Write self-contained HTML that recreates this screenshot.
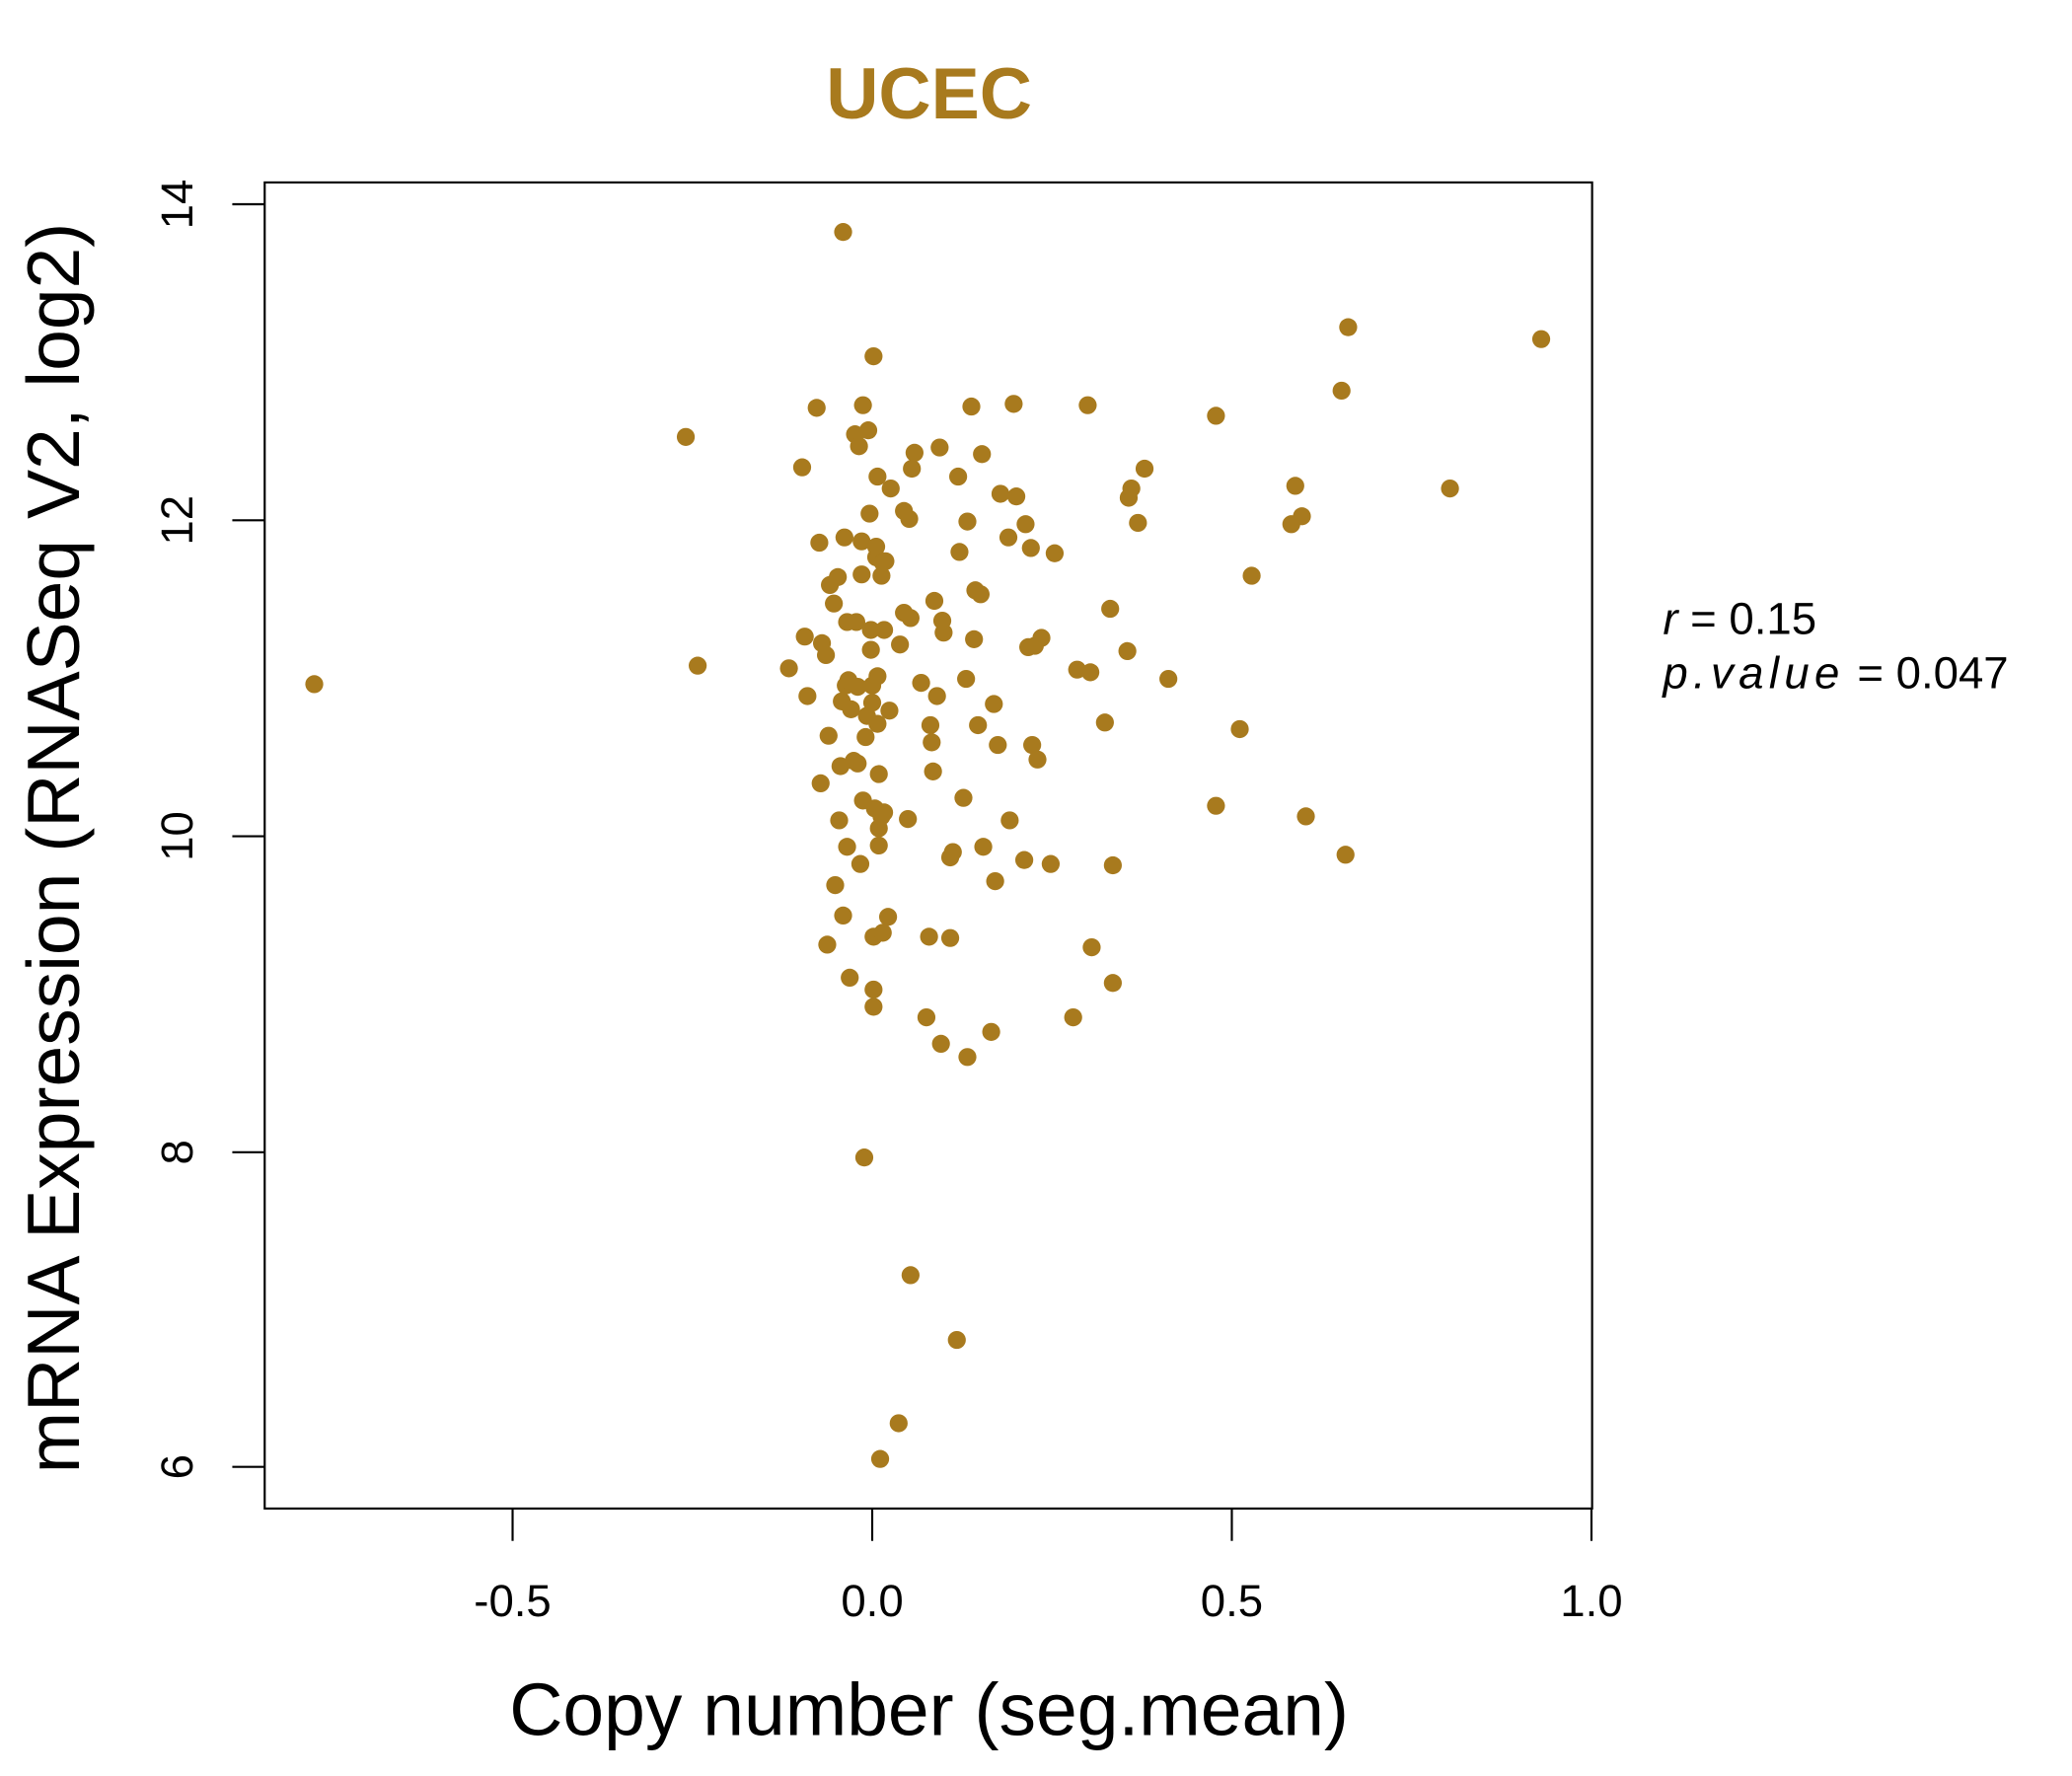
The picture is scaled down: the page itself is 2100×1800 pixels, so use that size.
<!DOCTYPE html>
<html><head><meta charset="utf-8"><style>html,body{margin:0;padding:0;background:#fff}svg{display:block}</style></head>
<body>
<svg width="2100" height="1800" xmlns="http://www.w3.org/2000/svg" font-family="Liberation Sans, sans-serif">
<g transform="translate(884,207) scale(1.34) translate(-660,-155)">
<text x="703" y="90" font-size="55" font-weight="bold" fill="#A87A1E" text-anchor="middle">UCEC</text>
<rect x="200.5" y="138.5" width="1004" height="1003" fill="none" stroke="#000" stroke-width="1.6"/>
<g stroke="#000" stroke-width="1.6">
<line x1="388" y1="1141" x2="388" y2="1166"/><line x1="660" y1="1141" x2="660" y2="1166"/><line x1="932" y1="1141" x2="932" y2="1166"/><line x1="1204" y1="1141" x2="1204" y2="1166"/>
<line x1="176" y1="155" x2="201" y2="155"/><line x1="176" y1="394" x2="201" y2="394"/><line x1="176" y1="633" x2="201" y2="633"/><line x1="176" y1="872" x2="201" y2="872"/><line x1="176" y1="1110" x2="201" y2="1110"/>
</g>
<g font-size="34" text-anchor="middle">
<text x="388" y="1223">-0.5</text><text x="660" y="1223">0.0</text><text x="932" y="1223">0.5</text><text x="1204" y="1223">1.0</text>
<text transform="translate(146,155) rotate(-90)">14</text>
<text transform="translate(146,394) rotate(-90)">12</text>
<text transform="translate(146,633) rotate(-90)">10</text>
<text transform="translate(146,872) rotate(-90)">8</text>
<text transform="translate(146,1110) rotate(-90)">6</text>
</g>
<text x="703" y="1313" font-size="56" text-anchor="middle">Copy number (seg.mean)</text>
<text transform="translate(60,642) rotate(-90)" font-size="56" text-anchor="middle">mRNA Expression (RNASeq V2, log2)</text>
<text x="1258" y="480" font-size="34"><tspan font-style="italic">r</tspan> = 0.15</text>
<text x="1258" y="521" font-size="34"><tspan font-style="italic" letter-spacing="4">p.value</tspan> = 0.047</text>
<g fill="#A87A1E">
<circle cx="238" cy="518" r="6.8"/><circle cx="519" cy="331" r="6.8"/><circle cx="528" cy="504" r="6.8"/><circle cx="597" cy="506" r="6.8"/><circle cx="607" cy="354" r="6.8"/><circle cx="609" cy="482" r="6.8"/><circle cx="611" cy="527" r="6.8"/><circle cx="618" cy="309" r="6.8"/><circle cx="620" cy="411" r="6.8"/><circle cx="621" cy="593" r="6.8"/><circle cx="622" cy="487" r="6.8"/><circle cx="625" cy="496" r="6.8"/><circle cx="626" cy="715" r="6.8"/><circle cx="627" cy="557" r="6.8"/><circle cx="628" cy="443" r="6.8"/><circle cx="631" cy="457" r="6.8"/><circle cx="632" cy="670" r="6.8"/><circle cx="634" cy="437" r="6.8"/><circle cx="635" cy="621" r="6.8"/><circle cx="636" cy="580" r="6.8"/><circle cx="637" cy="531" r="6.8"/><circle cx="638" cy="693" r="6.8"/><circle cx="639" cy="407" r="6.8"/><circle cx="640" cy="519" r="6.8"/><circle cx="641" cy="471" r="6.8"/><circle cx="641" cy="641" r="6.8"/><circle cx="642" cy="515" r="6.8"/><circle cx="643" cy="740" r="6.8"/><circle cx="644" cy="537" r="6.8"/><circle cx="646" cy="576" r="6.8"/><circle cx="647" cy="329" r="6.8"/><circle cx="648" cy="471" r="6.8"/><circle cx="649" cy="520" r="6.8"/><circle cx="649" cy="578" r="6.8"/><circle cx="650" cy="338" r="6.8"/><circle cx="651" cy="654" r="6.8"/><circle cx="652" cy="410" r="6.8"/><circle cx="652" cy="435" r="6.8"/><circle cx="653" cy="606" r="6.8"/><circle cx="653" cy="307" r="6.8"/><circle cx="654" cy="876" r="6.8"/><circle cx="655" cy="558" r="6.8"/><circle cx="656" cy="542" r="6.8"/><circle cx="657" cy="326" r="6.8"/><circle cx="658" cy="389" r="6.8"/><circle cx="659" cy="477" r="6.8"/><circle cx="659" cy="492" r="6.8"/><circle cx="660" cy="532" r="6.8"/><circle cx="660" cy="519" r="6.8"/><circle cx="661" cy="709" r="6.8"/><circle cx="661" cy="749" r="6.8"/><circle cx="661" cy="762" r="6.8"/><circle cx="661" cy="270" r="6.8"/><circle cx="662" cy="612" r="6.8"/><circle cx="663" cy="422" r="6.8"/><circle cx="663" cy="414" r="6.8"/><circle cx="664" cy="361" r="6.8"/><circle cx="664" cy="512" r="6.8"/><circle cx="664" cy="548" r="6.8"/><circle cx="665" cy="586" r="6.8"/><circle cx="665" cy="640" r="6.8"/><circle cx="665" cy="627" r="6.8"/><circle cx="666" cy="1104" r="6.8"/><circle cx="667" cy="436" r="6.8"/><circle cx="667" cy="618" r="6.8"/><circle cx="668" cy="426" r="6.8"/><circle cx="668" cy="706" r="6.8"/><circle cx="669" cy="615" r="6.8"/><circle cx="669" cy="477" r="6.8"/><circle cx="670" cy="425" r="6.8"/><circle cx="672" cy="694" r="6.8"/><circle cx="673" cy="538" r="6.8"/><circle cx="674" cy="370" r="6.8"/><circle cx="680" cy="1077" r="6.8"/><circle cx="681" cy="488" r="6.8"/><circle cx="684" cy="387" r="6.8"/><circle cx="684" cy="464" r="6.8"/><circle cx="687" cy="620" r="6.8"/><circle cx="688" cy="393" r="6.8"/><circle cx="689" cy="965" r="6.8"/><circle cx="689" cy="468" r="6.8"/><circle cx="690" cy="355" r="6.8"/><circle cx="692" cy="343" r="6.8"/><circle cx="697" cy="517" r="6.8"/><circle cx="701" cy="770" r="6.8"/><circle cx="703" cy="709" r="6.8"/><circle cx="704" cy="549" r="6.8"/><circle cx="705" cy="562" r="6.8"/><circle cx="706" cy="584" r="6.8"/><circle cx="707" cy="455" r="6.8"/><circle cx="709" cy="527" r="6.8"/><circle cx="711" cy="339" r="6.8"/><circle cx="712" cy="790" r="6.8"/><circle cx="713" cy="470" r="6.8"/><circle cx="714" cy="479" r="6.8"/><circle cx="719" cy="710" r="6.8"/><circle cx="719" cy="649" r="6.8"/><circle cx="721" cy="645" r="6.8"/><circle cx="724" cy="1014" r="6.8"/><circle cx="725" cy="361" r="6.8"/><circle cx="726" cy="418" r="6.8"/><circle cx="729" cy="604" r="6.8"/><circle cx="731" cy="514" r="6.8"/><circle cx="732" cy="395" r="6.8"/><circle cx="732" cy="800" r="6.8"/><circle cx="735" cy="308" r="6.8"/><circle cx="737" cy="484" r="6.8"/><circle cx="738" cy="447" r="6.8"/><circle cx="740" cy="549" r="6.8"/><circle cx="742" cy="450" r="6.8"/><circle cx="743" cy="344" r="6.8"/><circle cx="744" cy="641" r="6.8"/><circle cx="750" cy="781" r="6.8"/><circle cx="752" cy="533" r="6.8"/><circle cx="753" cy="667" r="6.8"/><circle cx="755" cy="564" r="6.8"/><circle cx="757" cy="374" r="6.8"/><circle cx="763" cy="407" r="6.8"/><circle cx="764" cy="621" r="6.8"/><circle cx="767" cy="306" r="6.8"/><circle cx="769" cy="376" r="6.8"/><circle cx="775" cy="651" r="6.8"/><circle cx="776" cy="397" r="6.8"/><circle cx="778" cy="490" r="6.8"/><circle cx="780" cy="415" r="6.8"/><circle cx="781" cy="564" r="6.8"/><circle cx="783" cy="489" r="6.8"/><circle cx="785" cy="575" r="6.8"/><circle cx="788" cy="483" r="6.8"/><circle cx="795" cy="654" r="6.8"/><circle cx="798" cy="419" r="6.8"/><circle cx="812" cy="770" r="6.8"/><circle cx="815" cy="507" r="6.8"/><circle cx="823" cy="307" r="6.8"/><circle cx="825" cy="509" r="6.8"/><circle cx="826" cy="717" r="6.8"/><circle cx="836" cy="547" r="6.8"/><circle cx="840" cy="461" r="6.8"/><circle cx="842" cy="655" r="6.8"/><circle cx="842" cy="744" r="6.8"/><circle cx="854" cy="377" r="6.8"/><circle cx="853" cy="493" r="6.8"/><circle cx="856" cy="370" r="6.8"/><circle cx="861" cy="396" r="6.8"/><circle cx="866" cy="355" r="6.8"/><circle cx="884" cy="514" r="6.8"/><circle cx="920" cy="315" r="6.8"/><circle cx="920" cy="610" r="6.8"/><circle cx="947" cy="436" r="6.8"/><circle cx="938" cy="552" r="6.8"/><circle cx="977" cy="397" r="6.8"/><circle cx="980" cy="368" r="6.8"/><circle cx="985" cy="391" r="6.8"/><circle cx="988" cy="618" r="6.8"/><circle cx="1015" cy="296" r="6.8"/><circle cx="1018" cy="647" r="6.8"/><circle cx="1020" cy="248" r="6.8"/><circle cx="1097" cy="370" r="6.8"/><circle cx="1166" cy="257" r="6.8"/><circle cx="638" cy="176" r="6.8"/>
</g>
</g>
</svg>
</body></html>
